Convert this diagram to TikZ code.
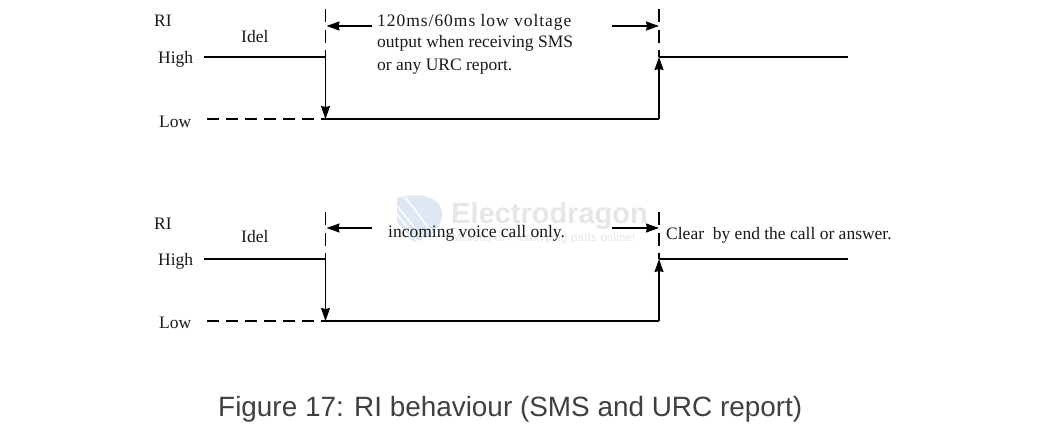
\documentclass[tikz,border=0pt]{standalone}
\usepackage{fontspec}
\setmainfont{Liberation Serif}
\newfontfamily\capfont{Liberation Sans}
\newfontfamily\widefont[LetterSpace=5.5]{Liberation Serif}
\usetikzlibrary{arrows.meta}
\definecolor{capgray}{HTML}{404040}
\definecolor{markgray}{HTML}{E6E6E6}
\definecolor{markblue}{HTML}{DDE8F4}
\tikzset{
    lbl/.style={inner sep=0pt,anchor=base west,font=\fontsize{17.5}{20}\selectfont,text=black!90},
    sig/.style={line width=1.5pt},
    dashsig/.style={line width=1.5pt,dash pattern=on 12pt off 7pt},
    marker/.style={line width=1.3pt,dash pattern=on 13pt off 7.5pt},
    arr/.style={line width=1.4pt,-{Stealth[length=13pt,width=9pt,inset=1pt]}},
}
\begin{document}
\begin{tikzpicture}[x=1pt,y=-1pt]
    \useasboundingbox (0,0) rectangle (1044,439);
    % watermark
    \fill[markblue] (397,198) .. controls (425,190) and (445,200) .. (442,218) .. controls (439,232) and (425,240) .. (414,242) -- (397,222) -- cycle;
    \draw[white,line width=1.5pt] (397,206) -- (425,240) (397,214) -- (418,242) (405,197) -- (432,232);
    \node[inner sep=0pt,anchor=base west,text=markgray,font=\capfont\bfseries\fontsize{29}{32}\selectfont] (markname) at (451,223) {Electrodragon};
    \node[inner sep=0pt,anchor=base west,text=markgray,font=\capfont\fontsize{11.8}{13}\selectfont] (markline) at (452,241) {Millions of Prototyping parts online!};
    % upper trace
    \node[lbl] (riA) at (154,27) {RI};
    \node[lbl] (idelA) at (241,42) {Idel};
    \node[lbl] (highA) at (158,63) {High};
    \node[lbl] (lowA) at (159,127) {Low};
    \coordinate (startA) at (204,57);
    \coordinate (fallA) at (325.5,57);
    \coordinate (dashA) at (207,119);
    \coordinate (botlA) at (325.5,119);
    \coordinate (botrA) at (659,119);
    \coordinate (riseA) at (659,57);
    \coordinate (endA) at (848,57);
    \coordinate (mktopA) at (325.5,9);
    \coordinate (mkrtopA) at (659,9);
    \draw[sig] (startA) -- (fallA);
    \draw[arr] (fallA) -- (botlA);
    \draw[dashsig] (dashA) -- (botlA);
    \draw[sig] (botlA) -- (botrA);
    \draw[arr] (botrA) -- (riseA);
    \draw[sig] (riseA) -- (endA);
    \draw[marker] (mktopA) -- (fallA);
    \draw[marker] (mkrtopA) -- (riseA);
    \node[lbl,font=\widefont\fontsize{17.5}{20}\selectfont] (noteA) at (377,26) {120ms/60ms low voltage};
    \node[lbl] (noteB) at (377,47) {output when receiving SMS};
    \node[lbl] (noteC) at (377,70) {or any URC report.};
    \coordinate (tailA) at (372,26);
    \coordinate (tipA) at (326.5,26);
    \coordinate (tailB) at (612,26);
    \coordinate (tipB) at (659,26);
    \draw[arr] (tailA) -- (tipA);
    \draw[arr] (tailB) -- (tipB);
    % lower trace
    \node[lbl] (riB) at (154,229) {RI};
    \node[lbl] (idelB) at (241,242) {Idel};
    \node[lbl] (highB) at (158,265) {High};
    \node[lbl] (lowB) at (159,328) {Low};
    \coordinate (startB) at (204,259);
    \coordinate (fallB) at (325.5,259);
    \coordinate (dashB) at (207,321);
    \coordinate (botlB) at (325.5,321);
    \coordinate (botrB) at (659,321);
    \coordinate (riseB) at (659,259);
    \coordinate (endB) at (848,259);
    \coordinate (mktopB) at (325.5,212);
    \coordinate (mkrtopB) at (659,212);
    \draw[sig] (startB) -- (fallB);
    \draw[arr] (fallB) -- (botlB);
    \draw[dashsig] (dashB) -- (botlB);
    \draw[sig] (botlB) -- (botrB);
    \draw[arr] (botrB) -- (riseB);
    \draw[sig] (riseB) -- (endB);
    \draw[marker] (mktopB) -- (fallB);
    \draw[marker] (mkrtopB) -- (riseB);
    \node[lbl] (noteD) at (388,237) {incoming voice call only.};
    \node[lbl] (noteE) at (666,239) {Clear\ \ by end the call or answer.};
    \coordinate (tailC) at (372,228);
    \coordinate (tipC) at (326.5,228);
    \coordinate (tailD) at (612,228);
    \coordinate (tipD) at (659,228);
    \draw[arr] (tailC) -- (tipC);
    \draw[arr] (tailD) -- (tipD);
    % caption
    \node[inner sep=0pt,anchor=base west,text=capgray,font=\capfont\fontsize{27.9}{30}\selectfont] (caption) at (218,416) {Figure 17: RI behaviour (SMS and URC report)};
\end{tikzpicture}
\end{document}
